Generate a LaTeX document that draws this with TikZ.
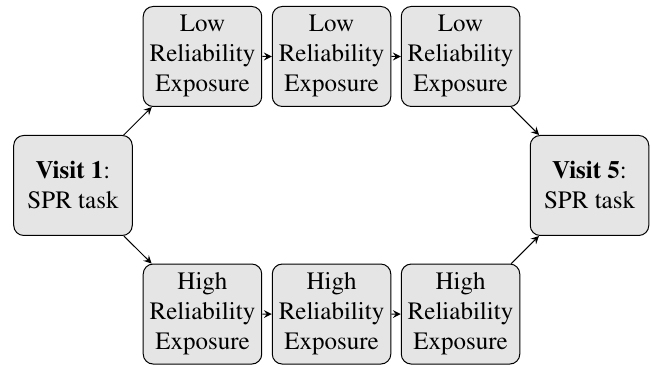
\documentclass[tikz,border=0pt]{standalone}
\usepackage[T1]{fontenc}
\usepackage{mathptmx}
\usepackage{xcolor}
\usepackage{tikz}

\begin{document}
\begin{tikzpicture}[scale=0.1, >=stealth]
\tikzstyle{box}=[draw=black, fill=gray!20, rounded corners=4pt, align=center, minimum width=47.4pt, minimum height=40pt, inner sep=2pt]
\useasboundingbox (0,0) rectangle (91.5,-51.45);
\node [box] (v1) at (10.26,-26.07) {\textbf{Visit 1}:\\SPR task};
\node [box] (v5) at (82.86,-26.07) {\textbf{Visit 5}:\\SPR task};
\node [box] (low1) at (28.46,-7.94) {Low\\Reliability\\Exposure};
\node [box] (low2) at (46.60,-7.94) {Low\\Reliability\\Exposure};
\node [box] (low3) at (64.73,-7.94) {Low\\Reliability\\Exposure};
\node [box] (high1) at (28.46,-44.14) {High\\Reliability\\Exposure};
\node [box] (high2) at (46.60,-44.14) {High\\Reliability\\Exposure};
\node [box] (high3) at (64.73,-44.14) {High\\Reliability\\Exposure};
\draw [black, ->] (v1) -- (low1);
\draw [black, ->] (low1) -- (low2);
\draw [black, ->] (low2) -- (low3);
\draw [black, ->] (low3) -- (v5);
\draw [black, ->] (v1) -- (high1);
\draw [black, ->] (high1) -- (high2);
\draw [black, ->] (high2) -- (high3);
\draw [black, ->] (high3) -- (v5);
\end{tikzpicture}
\end{document}
